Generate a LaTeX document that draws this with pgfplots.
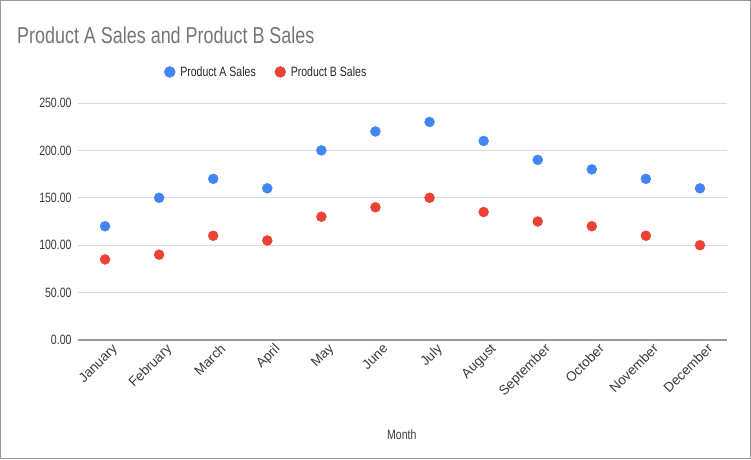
\documentclass[border=0pt]{standalone}
\usepackage{pgfplots}
\pgfplotsset{compat=1.18}
\usepackage{fontspec}
\setmainfont{Liberation Sans}

\definecolor{serA}{HTML}{4285F4}
\definecolor{serB}{HTML}{EA4335}
\definecolor{titlegray}{HTML}{757575}
\definecolor{labelgray}{HTML}{3A3A3A}
\definecolor{gridgray}{HTML}{DADADA}
\definecolor{zerogray}{HTML}{999999}

\newcommand{\sq}[1]{\scalebox{0.78}[1]{#1}}

\begin{document}
\begin{tikzpicture}[x=1pt,y=1pt]
\useasboundingbox (0,0) rectangle (751,459);
\draw[zerogray,line width=1pt] (0.5,0.5) rectangle (750.5,458.5);
\node[anchor=base west,text=titlegray,inner sep=0pt,font=\fontsize{23}{27}\selectfont]
  at (17,415) {\sq{Product A Sales and Product B Sales}};

\begin{axis}[
    at={(78pt,119pt)}, anchor=south west,
    scale only axis,
    width=649pt, height=237pt,
    xmin=-0.5, xmax=11.5,
    ymin=0, ymax=250,
    xtick={0,...,11},
    xticklabels={January,February,March,April,May,June,July,August,September,October,November,December},
    ytick={0,50,100,150,200,250},
    yticklabel={\sq{\pgfmathprintnumber[fixed,fixed zerofill,precision=2]{\tick}}},
    /pgf/number format/assume math mode=true,
    axis x line=bottom, axis y line=left,
    x axis line style={draw=zerogray,line width=1.2pt,-},
    y axis line style={draw=none},
    major tick length=0pt,
    ymajorgrids,
    major grid style={draw=gridgray,line width=0.9pt},
    tick label style={text=labelgray},
    yticklabel style={font=\fontsize{13.5}{16}\selectfont,xshift=-3pt},
    xticklabel style={font=\fontsize{13.5}{15}\selectfont,rotate=45,anchor=north east,xshift=6pt,yshift=-3pt},
    xlabel={\sq{Month}},
    xlabel style={font=\fontsize{13.5}{16}\selectfont,text=labelgray,at={(axis description cs:0.499,0)},anchor=center,yshift=-95pt},
    clip=false,
    legend columns=-1,
    legend image code/.code={\draw[#1,mark size=5.5pt] plot coordinates {(5pt,0pt)};},
    legend style={draw=none,fill=none,at={(axis description cs:0.128,1.131)},anchor=west,
        font=\fontsize{13.5}{16}\selectfont,text=black!85,
        /tikz/every even column/.append style={column sep=14pt},
        nodes={inner xsep=5pt}},
]
\addplot[only marks,mark=*,mark size=5pt,color=serA,mark options={draw=none,fill=serA}] coordinates {
    (0,120) (1,150) (2,170) (3,160) (4,200) (5,220) (6,230) (7,210) (8,190) (9,180) (10,170) (11,160)
};
\addplot[only marks,mark=*,mark size=5pt,color=serB,mark options={draw=none,fill=serB}] coordinates {
    (0,85) (1,90) (2,110) (3,105) (4,130) (5,140) (6,150) (7,135) (8,125) (9,120) (10,110) (11,100)
};
\legend{\sq{Product A Sales},\sq{Product B Sales}}
\end{axis}
\end{tikzpicture}
\end{document}
